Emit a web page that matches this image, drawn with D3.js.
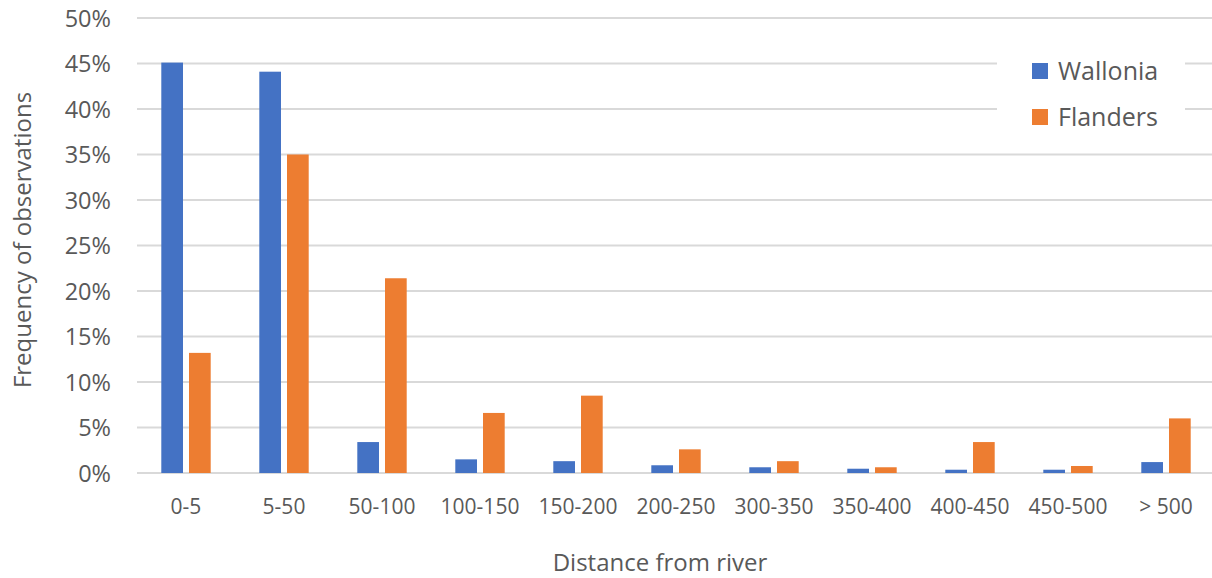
<!DOCTYPE html>
<html><head><meta charset="utf-8">
<script src="https://cdn.jsdelivr.net/npm/d3@7"></script>
<style>body{margin:0;background:#fff;overflow:hidden;} text{font-family:"Open Sans","Noto Sans",sans-serif;fill:#595959;}</style>
</head><body>
<svg id="c" width="1212" height="578"></svg>
<script>
const categories = ["0-5","5-50","50-100","100-150","150-200","200-250","300-350","350-400","400-450","450-500","> 500"];
const wallonia = [45.1,44.1,3.4,1.5,1.3,0.85,0.63,0.47,0.36,0.36,1.2];
const flanders = [13.2,35.0,21.4,6.6,8.5,2.6,1.3,0.63,3.4,0.77,6.0];
const yTicks = [0,5,10,15,20,25,30,35,40,45,50];
const seriesNames = ["Wallonia","Flanders"];
const colors = ["#4472C4","#ED7D31"];

(function(){
const svg = d3.select("#c");
const pLeft=137, pRight=1215, pTop=18, pBottom=473;
const x = d3.scaleBand().domain(categories).range([pLeft,pRight]);
const y = d3.scaleLinear().domain([0,50]).range([pBottom,pTop]);
const groupW = 49.4;
const inner = d3.scaleBand().domain(seriesNames).range([0,groupW]).paddingInner(0.217);

svg.append("g").selectAll("line").data(yTicks).join("line")
  .attr("x1",pLeft).attr("x2",1212)
  .attr("y1",d=>y(d)).attr("y2",d=>y(d))
  .attr("stroke","#d9d9d9").attr("stroke-width",2);

const yAxis = d3.axisLeft(y).tickValues(yTicks).tickFormat(d=>d+"%").tickSize(0).tickPadding(0);
const yg = svg.append("g").attr("transform",`translate(111,0)`).call(yAxis);
yg.select(".domain").remove();
yg.selectAll("text").style("font-size","23.5px").attr("fill","#595959").attr("dy","0.35em");

const data = [wallonia, flanders];
data.forEach((vals,si)=>{
  svg.append("g").selectAll("rect").data(categories).join("rect")
    .attr("x",(c)=>x(c)+(x.bandwidth()-groupW)/2+inner(seriesNames[si]))
    .attr("width",inner.bandwidth())
    .attr("y",(c,i)=>y(vals[i]))
    .attr("height",(c,i)=>pBottom-y(vals[i]))
    .attr("fill",colors[si]);
});

const xAxis = d3.axisBottom(x).tickSize(0).tickPadding(0);
const xg = svg.append("g").attr("transform",`translate(0,${pBottom})`).call(xAxis);
xg.select(".domain").remove();
xg.selectAll("text").style("font-size","21px").attr("fill","#595959").attr("y",41).attr("dy","0");

svg.append("text").attr("x",660).attr("y",571).attr("text-anchor","middle").style("font-size","24px").text("Distance from river");
svg.append("text").attr("transform","translate(31,240) rotate(-90)").attr("text-anchor","middle").style("font-size","24px").text("Frequency of observations");

const lg = svg.append("g");
lg.append("rect").attr("x",997).attr("y",42).attr("width",188).attr("height",100).attr("fill","#fff");
seriesNames.forEach((n,i)=>{
  const yy = 63 + i*46;
  lg.append("rect").attr("x",1032).attr("y",yy).attr("width",16).attr("height",16).attr("fill",colors[i]);
  lg.append("text").attr("x",1058).attr("y",yy+16.5).style("font-size","25px").text(n);
});
})();
</script>
</body></html>
